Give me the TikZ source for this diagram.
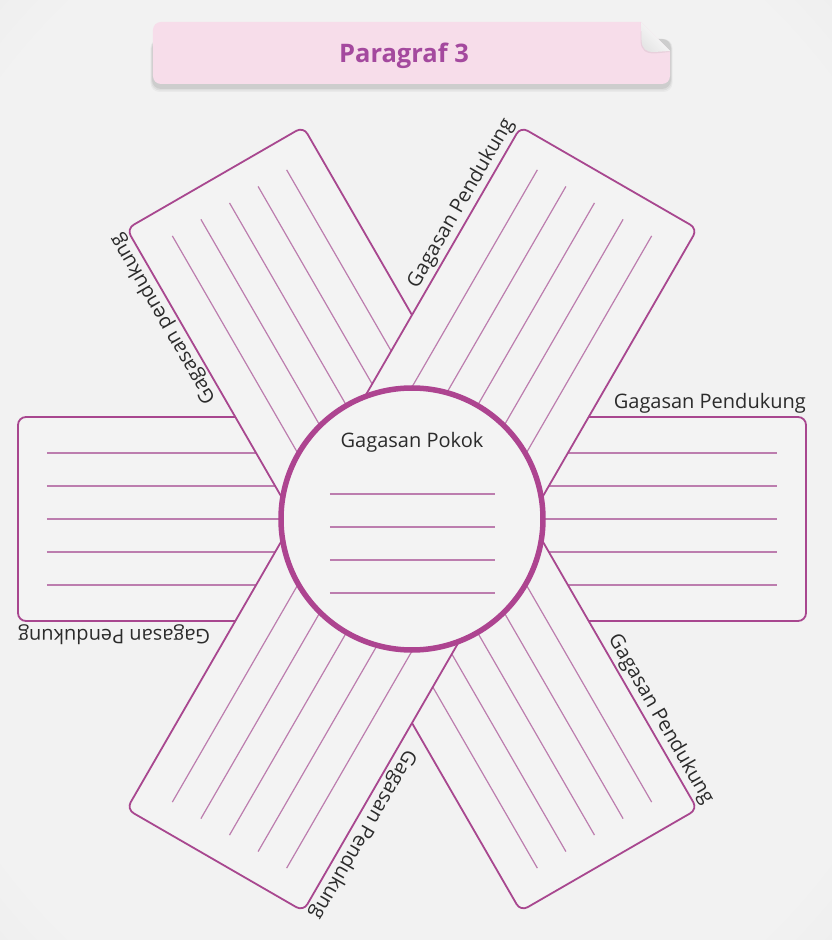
\documentclass[tikz,border=0pt]{standalone}
\usepackage{fontspec}
\setmainfont{Open Sans}
\definecolor{bandc}{HTML}{A8478F}
\definecolor{linec}{HTML}{BC7DAE}
\definecolor{ringc}{HTML}{AD4490}
\definecolor{paper}{HTML}{F3F3F3}
\definecolor{txtc}{HTML}{2B2B2B}
\definecolor{titlec}{HTML}{A4499E}
\definecolor{bannerc}{HTML}{F7DDEA}
\definecolor{bgin}{HTML}{F2F2F2}
\definecolor{bgmid}{HTML}{E3E3E3}
\definecolor{bgout}{HTML}{C2C2C2}
\pgfdeclareradialshading{vignette}{\pgfpoint{0bp}{0bp}}{%
  color(0bp)=(bgin); color(32bp)=(bgin); color(50bp)=(bgmid); color(71bp)=(bgout); color(80bp)=(bgout)}
\begin{document}
\begin{tikzpicture}[x=1pt,y=1pt,
  bandbox/.style={rectangle, draw=bandc, line width=1.8pt, fill=paper, rounded corners=8pt,
    minimum width=788pt, minimum height=204pt, inner sep=0pt},
  wline/.style={draw=linec, line width=1.2pt},
  lbl/.style={text=txtc, font=\fontsize{20}{24}\selectfont, inner xsep=0pt, inner ysep=3pt, anchor=south east},
]
\useasboundingbox (-412,-421) rectangle (420,519);
\shade[shading=vignette] (-412,-421) rectangle (420,519);
% title banner shadow
\foreach \s/\o in {5/0.035,3.5/0.05,2/0.07}{
  \fill[black, opacity=\o, rounded corners=9pt] (-259-\s/2,432-\s) -- (-259-\s/2,480) -- (258+\s/2,480) -- (258+\s/2,432-\s) -- cycle;
}
\fill[bannerc] [rounded corners=8pt] (-259,470) -- (-259,497) [sharp corners] -- (229,497) -- (258,468) [rounded corners=8pt] -- (258,435) -- (-259,435) -- cycle;
\fill[black, opacity=0.06] (229,497) -- (228.5,478) .. controls (229,468) and (234,465.5) .. (243,465.5) -- (258,467) -- cycle;
\shade[left color=black!10, right color=white, shading angle=135]
  (229,497) -- (229.5,479) .. controls (230,470) and (234,467) .. (242,467) -- (258,468) -- cycle;
\node[text=titlec, font=\fontsize{25.5}{30}\selectfont\bfseries] (title) at (-8,463) {Paragraf 3};
% bands
\node[bandbox] (band0) at (0,0) {};
\foreach \y in {-66,-33,0,33,66} \draw[wline] (-365,\y) -- (365,\y);
\node[bandbox, rotate=120] (band120) at (0,0) {};
\begin{scope}[rotate=120]
\foreach \y in {-66,-33,0,33,66} \draw[wline] (-365,\y) -- (365,\y);
\end{scope}
\node[bandbox, rotate=60] (band60) at (0,0) {};
\begin{scope}[rotate=60]
\foreach \y in {-66,-33,0,33,66} \draw[wline] (-365,\y) -- (365,\y);
\end{scope}
% centre
\node[circle, draw=ringc, line width=5.5pt, fill=paper, minimum size=262pt, inner sep=0pt] (core) at (0,0) {};
\foreach \y in {25,-8,-41,-74} \draw[wline] (-82,\y) -- (83,\y);
\node[text=txtc, font=\fontsize{20}{24}\selectfont] (pokok) at (0,77) {Gagasan Pokok};
% labels
\foreach \a/\t in {0/Gagasan Pendukung,60/Gagasan Pendukung,120/Gagasan pendukung,180/Gagasan Pendukung,240/Gagasan Pendukung,300/Gagasan Pendukung}{
  \begin{scope}[rotate=\a]
  \node[lbl, rotate=\a] (lab\a) at (394,102) {\t};
  \end{scope}
}
\end{tikzpicture}
\end{document}
